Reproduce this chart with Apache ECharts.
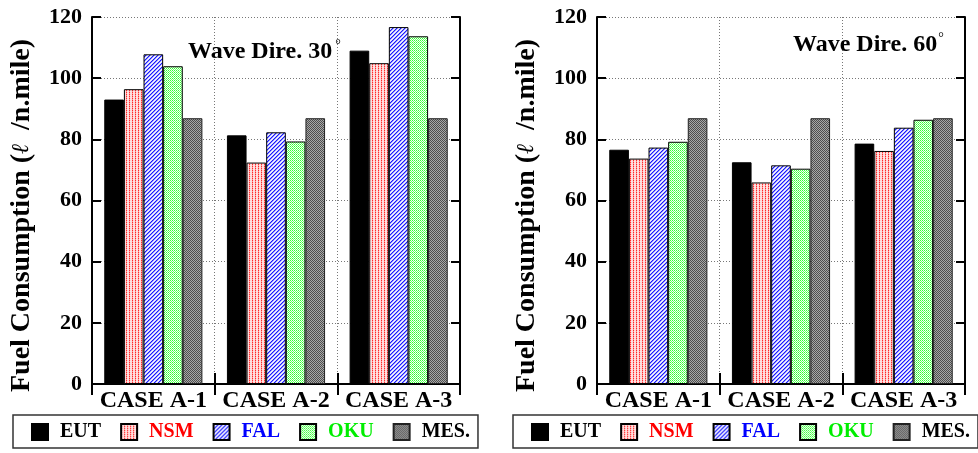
<!DOCTYPE html>
<html>
<head>
<meta charset="utf-8">
<script src="https://cdn.jsdelivr.net/npm/echarts@6/dist/echarts.min.js"></script>
<style>
html,body{margin:0;padding:0;background:#fff;}
#chart{width:978px;height:453px;}
</style>
</head>
<body>
<div id="chart"></div>
<script>
// ---- data ----
const categories = ['CASE A-1', 'CASE A-2', 'CASE A-3'];
const seriesNames = ['EUT', 'NSM', 'FAL', 'OKU', 'MES.'];
const yTickMin = 0;
const yTickMax = 120;
const yTickStep = 20;

// Wave direction 30 deg
const eut30 = [93.0, 81.3, 109.0];
const nsm30 = [96.4, 72.4, 104.9];
const fal30 = [107.8, 82.3, 116.7];
const oku30 = [103.9, 79.3, 113.7];
const mes30 = [86.9, 86.9, 86.9];

// Wave direction 60 deg
const eut60 = [76.6, 72.5, 78.6];
const nsm60 = [73.7, 65.9, 76.2];
const fal60 = [77.3, 71.5, 83.8];
const oku60 = [79.2, 70.4, 86.4];
const mes60 = [86.9, 86.9, 86.9];

const titles = ['Wave Dire. 30', 'Wave Dire. 60'];
const yName = 'Fuel Consumption (';
const yUnit = '  /n.mile)';

// ---- patterns ----
function makePattern(w, h, fn) {
  const c = document.createElement('canvas');
  c.width = w; c.height = h;
  const ctx = c.getContext('2d');
  for (let y = 0; y < h; y++) {
    for (let x = 0; x < w; x++) {
      ctx.fillStyle = fn(x, y);
      ctx.fillRect(x, y, 1, 1);
    }
  }
  return { image: c, repeat: 'repeat' };
}
const patNSM = makePattern(3, 2, (x, y) => {
  if (x === 0) return y === 0 ? '#ff2a2a' : '#ff9a9a';
  if (x === 1) return y === 0 ? '#ffd0d0' : '#ffe6e6';
  return '#ffdcdc';
});
const patFAL = makePattern(4, 4, (x, y) => {
  const k = (x + y) % 4;
  if (k === 0) return '#1818ff';
  if (k === 1) return '#9090ff';
  if (k === 3) return '#d4d4ff';
  return '#f6f6ff';
});
const patOKU = makePattern(4, 4, (x, y) => {
  if ((x + y) % 2 === 0) return (x % 2 === 0) ? '#30ff30' : '#70ff70';
  return '#f4fff4';
});
const patMES = makePattern(2, 2, (x, y) => ((x + y) % 2 === 0 ? '#4e4e4e' : '#a8a8a8'));
const fills = ['#000000', patNSM, patFAL, patOKU, patMES];
const textColors = ['#000000', '#ff0000', '#0000ff', '#00ee00', '#000000'];

const FONT = "'Liberation Serif', 'Times New Roman', serif";
const grids = [
  { left: 92, right: 518, top: 17, bottom: 69 },
  { left: 597, right: 13, top: 17, bottom: 69 }
];

const dotted = { color: '#777', width: 1, type: [1, 2] };

const xAxes = [], yAxes = [];
grids.forEach((g, gi) => {
  xAxes.push({
    gridIndex: gi, type: 'category', data: categories, position: 'bottom',
    axisLine: { show: true, lineStyle: { color: '#000', width: 2 } },
    axisTick: { show: true, inside: true, length: 11, lineStyle: { color: '#000', width: 2 } },
    axisLabel: { interval: 0, hideOverlap: false, fontFamily: FONT, fontWeight: 'bold', fontSize: 24, color: '#000', margin: 5 },
    splitLine: { show: true, lineStyle: dotted }
  });
  xAxes.push({
    gridIndex: gi, type: 'category', data: categories, position: 'top',
    axisLine: { show: true, lineStyle: { color: '#000', width: 2 } },
    axisTick: { show: true, inside: true, length: 11, lineStyle: { color: '#000', width: 2 } },
    axisLabel: { show: false },
    splitLine: { show: false }
  });
  yAxes.push({
    gridIndex: gi, type: 'value', min: yTickMin, max: yTickMax, interval: yTickStep, position: 'left',
    axisLine: { show: true, lineStyle: { color: '#000', width: 2 } },
    axisTick: { show: true, inside: true, length: 9, lineStyle: { color: '#000', width: 2 } },
    axisLabel: { fontFamily: FONT, fontWeight: 'bold', fontSize: 22, color: '#000', margin: 10 },
    splitLine: { show: true, lineStyle: dotted },
    name: yName + '{l|ℓ}' + yUnit,
    nameLocation: 'middle',
    nameGap: 56,
    nameTextStyle: {
      fontFamily: FONT, fontWeight: 'bold', fontSize: 28, color: '#000',
      padding: [0, 30, 0, 0],
      rich: { l: { fontFamily: "'DejaVu Serif', serif", fontStyle: 'italic', fontWeight: 'normal', fontSize: 24, color: '#000' } }
    }
  });
  yAxes.push({
    gridIndex: gi, type: 'value', min: yTickMin, max: yTickMax, interval: yTickStep, position: 'right',
    axisLine: { show: true, lineStyle: { color: '#000', width: 2 } },
    axisTick: { show: true, inside: true, length: 9, lineStyle: { color: '#000', width: 2 } },
    axisLabel: { show: false },
    splitLine: { show: false }
  });
});

const data30 = [eut30, nsm30, fal30, oku30, mes30];
const data60 = [eut60, nsm60, fal60, oku60, mes60];
const series = [];
[data30, data60].forEach((set, gi) => {
  set.forEach((vals, si) => {
    series.push({
      type: 'bar', name: seriesNames[si], data: vals,
      xAxisIndex: gi * 2, yAxisIndex: gi * 2,
      barGap: '0%', barCategoryGap: '20%',
      itemStyle: { color: fills[si], borderColor: si === 4 ? '#222' : '#000', borderWidth: 1 },
      emphasis: { disabled: true }
    });
  });
});

const legendData = seriesNames.map((n, i) => ({ name: n, textStyle: { color: textColors[i] } }));
const legendBase = {
  orient: 'horizontal', top: 415, itemWidth: 16, itemHeight: 16, itemGap: 19,
  icon: 'rect', selectedMode: false,
  borderColor: '#333', borderWidth: 1.5, borderRadius: 0,
  padding: [7, 8, 6, 18],
  textStyle: { fontFamily: FONT, fontWeight: 'bold', fontSize: 20, padding: [0, 0, 0, 7], lineHeight: 20 },
  data: legendData
};

const option = {
  animation: false,
  backgroundColor: '#fff',
  grid: grids,
  xAxis: xAxes,
  yAxis: yAxes,
  title: [
    { text: titles[0] + '{d|°}', left: 183, top: 33,
      textStyle: { fontFamily: FONT, fontWeight: 'bold', fontSize: 24, color: '#000',
        rich: { d: { fontFamily: FONT, fontSize: 14, fontWeight: 'normal', color: '#000', verticalAlign: 'top', padding: [0, 0, 14, 3] } } } },
    { text: titles[1] + '{d|°}', left: 788, top: 26,
      textStyle: { fontFamily: FONT, fontWeight: 'bold', fontSize: 24, color: '#000',
        rich: { d: { fontFamily: FONT, fontSize: 14, fontWeight: 'normal', color: '#000', verticalAlign: 'top', padding: [0, 0, 14, 1] } } } }
  ],
  legend: [
    Object.assign({}, legendBase, { left: 13 }),
    Object.assign({}, legendBase, { left: 513 })
  ],
  series: series
};

const chart = echarts.init(document.getElementById('chart'), null, { renderer: 'canvas' });
chart.setOption(option);
</script>
</body>
</html>
